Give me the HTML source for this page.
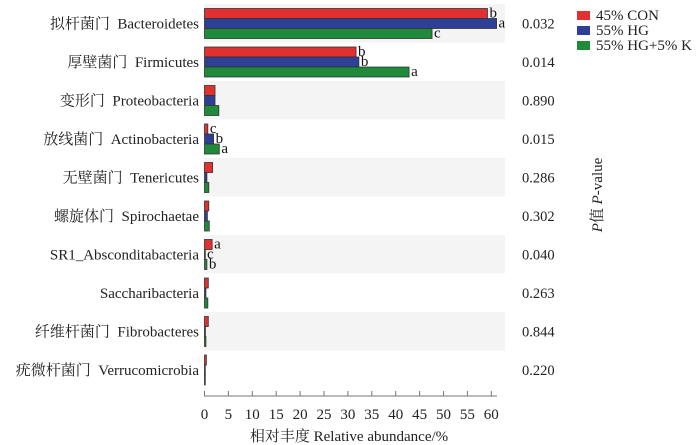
<!DOCTYPE html>
<html><head><meta charset="utf-8"><style>
body{margin:0;background:#fff}
svg{display:block;font-family:"Liberation Serif","Noto Serif CJK SC","Noto Sans CJK SC",serif}
</style></head><body>
<svg id="chart" width="700" height="445"></svg>
<script>
const categories=["拟杆菌门  Bacteroidetes","厚壁菌门  Firmicutes","变形门  Proteobacteria","放线菌门  Actinobacteria","无壁菌门  Tenericutes","螺旋体门  Spirochaetae","SR1_Absconditabacteria","Saccharibacteria","纤维杆菌门  Fibrobacteres","疣微杆菌门  Verrucomicrobia"];
const seriesNames=["45% CON","55% HG","55% HG+5% K"];
const conValues=[59.2,31.7,2.2,0.7,1.7,0.9,1.6,0.8,0.8,0.4];
const hgValues=[61.1,32.3,2.2,1.9,0.5,0.6,0.1,0.3,0.2,0.05];
const hgkValues=[47.6,42.8,3.0,3.1,0.9,1.0,0.5,0.7,0.3,0.05];
const conLetters=["b","b","","c","","","a","","",""];
const hgLetters=["a","b","","b","","","c","","",""];
const hgkLetters=["c","a","","a","","","b","","",""];
const pValues=["0.032","0.014","0.890","0.015","0.286","0.302","0.040","0.263","0.844","0.220"];
const xTicks=[0,5,10,15,20,25,30,35,40,45,50,55,60];
const colors=["#e03030","#2e3f95","#1f8a3a"];
const NS="http://www.w3.org/2000/svg";
const svg=document.getElementById('chart');
const x0=204.5,pxPer=4.78,top0=4,rowH=38.5,barH=10;
const X=v=>x0+v*pxPer;
const rowY=i=>top0+i*rowH;
function mk(tag,attrs,txt){const e=document.createElementNS(NS,tag);for(const k in attrs)e.setAttribute(k,attrs[k]);if(txt!==undefined)e.textContent=txt;svg.appendChild(e);return e;}
categories.forEach((c,i)=>{
  if(i%2===0){const b=mk('rect',{x:204,y:rowY(i),width:301,height:rowH,fill:'#f4f4f4'});
  
  }
  const t=mk('text',{x:199,y:rowY(i)+rowH/2+5,'text-anchor':'end','font-size':15,fill:'#222','xml:space':'preserve',style:'white-space:pre'},c);
  
  
  const p=mk('text',{x:522,y:rowY(i)+rowH/2+5,'font-size':14.5,fill:'#222'},pValues[i]);
  
  
  [conValues,hgValues,hgkValues].forEach((arr,s)=>{
    const y=rowY(i)+4.5+s*barH;
    const r=mk('rect',{x:X(0),y:y,width:Math.max(arr[i]*pxPer,0.8),height:barH,fill:colors[s],stroke:'#333','stroke-width':0.8});
    
    
    const L=[conLetters,hgLetters,hgkLetters][s][i];
    if(L){const lt=mk('text',{x:X(arr[i])+2,y:y+9,'font-size':15,fill:'#111'},L);
    
    }
  });
});
const ax=mk('line',{x1:204,x2:497,y1:396,y2:396,stroke:'#777','stroke-width':1});


xTicks.forEach(v=>{
  const tk=mk('line',{x1:X(v),x2:X(v),y1:391,y2:396,stroke:'#777'});
  
  
  const tl=mk('text',{x:X(v),y:419,'text-anchor':'middle','font-size':15,fill:'#222'},v);
  
  
});
const xt=mk('text',{x:349,y:441,'text-anchor':'middle','font-size':15,fill:'#222'},'相对丰度 Relative abundance/%');


const yt=mk('text',{x:0,y:0,transform:'translate(602,195) rotate(-90)','text-anchor':'middle','font-size':15,fill:'#222'});
yt.innerHTML='<tspan font-style="italic">P</tspan>值 <tspan font-style="italic">P</tspan>-value';


seriesNames.forEach((n,s)=>{
  const sw=mk('rect',{x:577,y:11+s*15,width:13,height:9,fill:colors[s]});
  
  
  const lt=mk('text',{x:596,y:20+s*15,'font-size':15,fill:'#222'},n);
  
  
});
</script>
</body></html>
